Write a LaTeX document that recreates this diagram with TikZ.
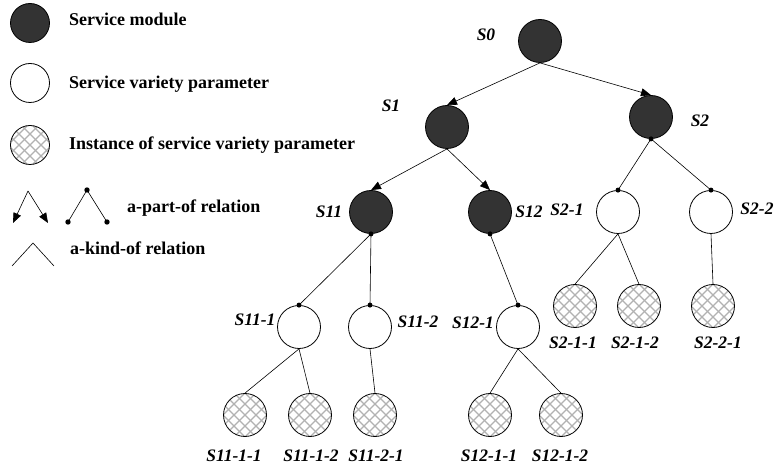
\documentclass[tikz,border=0pt]{standalone}
\usepackage{fontspec}
\setmainfont{Liberation Serif}
\usetikzlibrary{arrows.meta}
\begin{document}
\begin{tikzpicture}[x=1pt,y=-1pt,
 every node/.style={inner sep=0pt},
 mod/.style={circle,draw,line width=0.8pt,fill=black!80,minimum size=43pt},
 par/.style={circle,draw,line width=0.8pt,fill=white,minimum size=43pt},
 hatch/.style={circle,draw,line width=0.8pt,fill=white,minimum size=43pt,
   path picture={\foreach \k in {-55,-44,...,55}{
     \draw[gray!60,line width=1.3pt] (path picture bounding box.center) ++(\k*1pt-30pt,-30pt) -- ++(60pt,60pt);
     \draw[gray!60,line width=1.3pt] (path picture bounding box.center) ++(\k*1pt-30pt,30pt) -- ++(60pt,-60pt);}}},
 lbl/.style={font=\fontsize{17.5}{20}\selectfont\bfseries\itshape},
 leg/.style={font=\fontsize{18}{20}\selectfont\bfseries,anchor=base west},
 rel/.style={line width=0.6pt},
 partarrow/.style={line width=0.6pt,-{Triangle[length=10pt,width=8pt]}},
 dotr/.style={fill=black}
]
\useasboundingbox (0,0) rectangle (777,470);

% legend
\node[mod,minimum size=39pt] (lmod) at (30,23) {};
\node[leg] (tmod) at (69,26) {Service module};
\node[par,minimum size=39pt] (lpar) at (30,83) {};
\node[leg] (tpar) at (69,89) {Service variety parameter};
\node[hatch,minimum size=39pt] (linst) at (30,145) {};
\node[leg] (tinst) at (69,150) {Instance of service variety parameter};
\coordinate (a0) at (28,191);
\coordinate (a1) at (13,223);
\coordinate (a2) at (48,223);
\draw[partarrow] (a0) -- (a1);
\draw[partarrow] (a0) -- (a2);
\coordinate (b0) at (87,190);
\coordinate (b1) at (68,222);
\coordinate (b2) at (107,222);
\draw[rel] (b1) -- (b0) -- (b2);
\foreach \p in {b0,b1,b2} \fill (\p) circle (2.7pt);
\node[leg] (tpart) at (127,213) {a-part-of relation};
\coordinate (c0) at (33,243);
\coordinate (c1) at (12,266);
\coordinate (c2) at (54,266);
\draw[rel] (c1) -- (c0) -- (c2);
\node[leg] (tkind) at (70,255) {a-kind-of relation};

% tree nodes
\node[mod] (S0) at (540,41) {};
\node[mod] (S1) at (447,127) {};
\node[mod] (S2) at (651,117) {};
\node[mod] (S11) at (371,212) {};
\node[mod] (S12) at (490,212) {};
\node[par] (S21) at (618,212) {};
\node[par] (S22) at (711,212) {};
\node[par] (S111) at (299,327) {};
\node[par] (S112) at (370,327) {};
\node[par] (S121) at (518,327) {};
\node[hatch] (S211) at (575,306) {};
\node[hatch] (S212) at (639,306) {};
\node[hatch] (S221) at (713,306) {};
\node[hatch] (S1111) at (245,415) {};
\node[hatch] (S1112) at (310,415) {};
\node[hatch] (S1121) at (375,415) {};
\node[hatch] (S1211) at (490,415) {};
\node[hatch] (S1212) at (561,415) {};

% labels
\node[lbl] (LS0) at (486,35) {S0};
\node[lbl] (LS1) at (391,106) {S1};
\node[lbl] (LS2) at (700,121) {S2};
\node[lbl] (LS11) at (329,212) {S11};
\node[lbl] (LS12) at (529,212) {S12};
\node[lbl] (LS21) at (567,210) {S2-1};
\node[lbl] (LS22) at (757,209) {S2-2};
\node[lbl] (LS111) at (255,320) {S11-1};
\node[lbl] (LS112) at (418,322) {S11-2};
\node[lbl] (LS121) at (473,323) {S12-1};
\node[lbl] (LS211) at (573,343) {S2-1-1};
\node[lbl] (LS212) at (635,343) {S2-1-2};
\node[lbl] (LS221) at (718,343) {S2-2-1};
\node[lbl] (LS1111) at (234,456) {S11-1-1};
\node[lbl] (LS1112) at (311,456) {S11-1-2};
\node[lbl] (LS1121) at (376,456) {S11-2-1};
\node[lbl] (LS1211) at (489,456) {S12-1-1};
\node[lbl] (LS1212) at (560,456) {S12-1-2};

% a-part-of with arrows
\draw[partarrow] (S0.south) -- (S1.north);
\draw[partarrow] (S0.south) -- (S2.north);
\draw[partarrow] (S1.south) -- (S11.north);
\draw[partarrow] (S1.south) -- (S12.north);

% a-part-of with dots
\draw[rel] (S2.south) -- (S21.north);
\draw[rel] (S2.south) -- (S22.north);
\draw[rel] (S11.south) -- (S111.north);
\draw[rel] (S11.south) -- (S112.north);
\draw[rel] (S12.south) -- (S121.north);
\foreach \n in {S2,S11,S12} \fill (\n.south) circle (2.5pt);
\foreach \n in {S21,S22,S111,S112,S121} \fill (\n.north) circle (2.5pt);

% a-kind-of
\draw[rel] (S21.south) -- (S211.north);
\draw[rel] (S21.south) -- (S212.north);
\draw[rel] (S22.south) -- (S221.north);
\draw[rel] (S111.south) -- (S1111.north);
\draw[rel] (S111.south) -- (S1112.north);
\draw[rel] (S112.south) -- (S1121.north);
\draw[rel] (S121.south) -- (S1211.north);
\draw[rel] (S121.south) -- (S1212.north);
\end{tikzpicture}
\end{document}
